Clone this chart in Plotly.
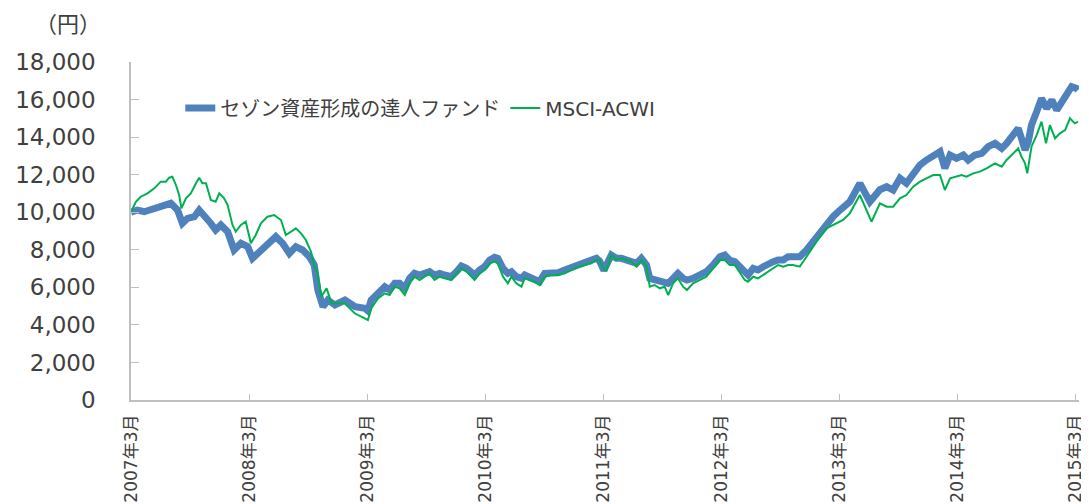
import plotly.graph_objects as go

# ---- data (date, index value in yen) ----
fund_series = [
    ("2007-03-01", 10000), ("2007-03-21", 10117), ("2007-04-11", 10027), ("2007-05-01", 10117),
    ("2007-05-22", 10293), ("2007-06-12", 10384), ("2007-07-02", 10473), ("2007-07-23", 10117),
    ("2007-08-07", 9409), ("2007-08-23", 9675), ("2007-09-13", 9761), ("2007-09-28", 10117),
    ("2007-10-14", 9851), ("2007-11-03", 9409), ("2007-11-18", 9053), ("2007-12-04", 9319),
    ("2007-12-25", 8962), ("2008-01-14", 7988), ("2008-02-04", 8344), ("2008-02-25", 8165),
    ("2008-03-11", 7545), ("2008-04-01", 7897), ("2008-04-26", 8344), ("2008-05-22", 8698),
    ("2008-06-12", 8344), ("2008-07-03", 7810), ("2008-07-23", 8165), ("2008-08-13", 7988),
    ("2008-09-03", 7631), ("2008-09-18", 7189), ("2008-09-29", 5858), ("2008-10-15", 4970),
    ("2008-10-30", 5325), ("2008-11-21", 5059), ("2008-12-22", 5325), ("2009-01-22", 4970),
    ("2009-02-22", 4881), ("2009-03-03", 4750), ("2009-03-13", 5325), ("2009-04-03", 5680),
    ("2009-04-24", 6035), ("2009-05-09", 5858), ("2009-05-25", 6213), ("2009-06-09", 6213),
    ("2009-06-25", 5947), ("2009-07-10", 6479), ("2009-07-25", 6745), ("2009-08-10", 6656),
    ("2009-08-25", 6745), ("2009-09-10", 6834), ("2009-09-25", 6656), ("2009-10-11", 6745),
    ("2009-10-26", 6656), ("2009-11-16", 6567), ("2009-12-02", 6834), ("2009-12-17", 7135),
    ("2010-01-02", 7012), ("2010-01-17", 6745), ("2010-01-27", 6656), ("2010-02-12", 6923),
    ("2010-02-27", 7100), ("2010-03-15", 7455), ("2010-03-30", 7597), ("2010-04-09", 7545),
    ("2010-04-25", 7012), ("2010-05-10", 6745), ("2010-05-21", 6834), ("2010-06-05", 6567),
    ("2010-06-21", 6479), ("2010-07-01", 6656), ("2010-07-16", 6567), ("2010-08-01", 6479),
    ("2010-08-16", 6301), ("2010-09-01", 6745), ("2010-09-22", 6745), ("2010-10-12", 6780),
    ("2010-11-02", 6923), ("2010-11-23", 7065), ("2010-12-13", 7189), ("2011-01-03", 7279),
    ("2011-01-23", 7455), ("2011-02-08", 7545), ("2011-02-18", 7400), ("2011-03-03", 6900),
    ("2011-03-26", 7721), ("2011-04-11", 7545), ("2011-04-26", 7545), ("2011-05-12", 7455),
    ("2011-05-27", 7455), ("2011-06-12", 7279), ("2011-06-27", 7545), ("2011-07-13", 7189),
    ("2011-07-23", 6479), ("2011-08-07", 6390), ("2011-08-23", 6301), ("2011-09-07", 6301),
    ("2011-09-18", 6213), ("2011-10-03", 6479), ("2011-10-18", 6745), ("2011-11-03", 6479),
    ("2011-11-15", 6390), ("2011-12-04", 6479), ("2011-12-25", 6656), ("2012-01-14", 6834),
    ("2012-02-04", 7189), ("2012-02-25", 7631), ("2012-03-11", 7721), ("2012-03-26", 7455),
    ("2012-04-11", 7367), ("2012-04-26", 7100), ("2012-05-12", 6834), ("2012-05-22", 6656),
    ("2012-06-07", 7012), ("2012-06-22", 6923), ("2012-07-08", 7100), ("2012-07-23", 7279),
    ("2012-08-08", 7367), ("2012-08-23", 7455), ("2012-09-08", 7455), ("2012-09-23", 7631),
    ("2012-10-08", 7600), ("2012-10-29", 7631), ("2012-11-19", 7988), ("2012-12-09", 8430),
    ("2012-12-30", 8962), ("2013-01-20", 9409), ("2013-02-09", 9761), ("2013-02-25", 10027),
    ("2013-03-12", 10206), ("2013-04-02", 10560), ("2013-05-03", 11539), ("2013-06-03", 10560),
    ("2013-07-04", 11200), ("2013-07-25", 11360), ("2013-08-14", 11183), ("2013-09-04", 11805),
    ("2013-09-24", 11538), ("2013-10-15", 11981), ("2013-11-05", 12514), ("2013-11-25", 12780),
    ("2013-12-16", 13046), ("2014-01-06", 13222), ("2014-01-21", 12337), ("2014-02-06", 13046),
    ("2014-02-26", 12868), ("2014-03-19", 13046), ("2014-04-03", 12780), ("2014-04-24", 13046),
    ("2014-05-15", 13134), ("2014-06-04", 13489), ("2014-06-25", 13668), ("2014-07-16", 13400),
    ("2014-07-31", 13668), ("2014-08-20", 14200), ("2014-09-05", 14468), ("2014-09-15", 13935),
    ("2014-09-26", 13313), ("2014-10-06", 13755), ("2014-10-16", 14644), ("2014-11-01", 15352),
    ("2014-11-16", 16065), ("2014-12-02", 15533), ("2014-12-18", 15975), ("2015-01-02", 15443),
    ("2015-01-17", 15799), ("2015-02-02", 16332), ("2015-02-17", 16683), ("2015-03-04", 16598),
    ("2015-03-09", 16508),
]

msci_series = [
    ("2007-03-01", 10000), ("2007-03-16", 10560), ("2007-03-31", 10826), ("2007-04-21", 11005),
    ("2007-05-12", 11272), ("2007-06-01", 11627), ("2007-06-17", 11627), ("2007-06-27", 11840),
    ("2007-07-07", 11893), ("2007-07-18", 11449), ("2007-07-28", 10916), ("2007-08-04", 10206),
    ("2007-08-18", 10738), ("2007-09-02", 11005), ("2007-09-18", 11538), ("2007-09-28", 11840),
    ("2007-10-08", 11538), ("2007-10-19", 11538), ("2007-11-03", 10650), ("2007-11-18", 10560),
    ("2007-11-29", 11005), ("2007-12-14", 10738), ("2007-12-25", 10384), ("2008-01-09", 9319),
    ("2008-01-19", 8962), ("2008-02-04", 9319), ("2008-02-19", 9495), ("2008-03-06", 8344),
    ("2008-03-21", 8786), ("2008-04-06", 9409), ("2008-04-26", 9761), ("2008-05-17", 9851),
    ("2008-06-07", 9585), ("2008-06-22", 8786), ("2008-07-08", 8962), ("2008-07-23", 9142),
    ("2008-08-08", 8877), ("2008-08-23", 8520), ("2008-09-08", 7897), ("2008-09-18", 7189),
    ("2008-09-28", 6750), ("2008-10-10", 5500), ("2008-10-26", 5948), ("2008-11-11", 5148),
    ("2008-12-21", 5148), ("2009-01-21", 4617), ("2009-02-21", 4351), ("2009-03-03", 4260),
    ("2009-03-13", 4881), ("2009-04-03", 5414), ("2009-04-24", 5680), ("2009-05-09", 5591),
    ("2009-05-25", 6035), ("2009-06-09", 5947), ("2009-06-25", 5591), ("2009-07-10", 6213),
    ("2009-07-25", 6567), ("2009-08-10", 6390), ("2009-08-25", 6567), ("2009-09-10", 6745),
    ("2009-09-25", 6390), ("2009-10-11", 6567), ("2009-10-26", 6479), ("2009-11-16", 6390),
    ("2009-12-02", 6745), ("2009-12-17", 7012), ("2010-01-02", 6834), ("2010-01-17", 6567),
    ("2010-01-27", 6390), ("2010-02-12", 6745), ("2010-02-27", 6923), ("2010-03-15", 7279),
    ("2010-03-30", 7367), ("2010-04-09", 7279), ("2010-04-25", 6567), ("2010-05-10", 6213),
    ("2010-05-21", 6567), ("2010-06-05", 6213), ("2010-06-21", 6035), ("2010-07-01", 6479),
    ("2010-07-16", 6390), ("2010-08-01", 6301), ("2010-08-16", 6124), ("2010-09-01", 6567),
    ("2010-09-22", 6656), ("2010-10-12", 6656), ("2010-11-02", 6745), ("2010-11-23", 6923),
    ("2010-12-13", 7100), ("2011-01-03", 7189), ("2011-01-23", 7279), ("2011-02-08", 7455),
    ("2011-02-18", 7455), ("2011-03-03", 6950), ("2011-03-11", 6923), ("2011-03-26", 7721),
    ("2011-04-11", 7455), ("2011-04-26", 7545), ("2011-05-12", 7455), ("2011-05-27", 7367),
    ("2011-06-12", 7100), ("2011-06-27", 7455), ("2011-07-13", 7100), ("2011-07-23", 6035),
    ("2011-08-07", 6124), ("2011-08-23", 5948), ("2011-09-07", 6035), ("2011-09-18", 5591),
    ("2011-10-03", 6213), ("2011-10-18", 6479), ("2011-11-03", 6035), ("2011-11-15", 5858),
    ("2011-12-04", 6213), ("2011-12-25", 6390), ("2012-01-14", 6567), ("2012-02-04", 7012),
    ("2012-02-25", 7455), ("2012-03-11", 7455), ("2012-03-26", 7189), ("2012-04-11", 7189),
    ("2012-04-26", 6834), ("2012-05-12", 6390), ("2012-05-22", 6301), ("2012-06-07", 6567),
    ("2012-06-22", 6479), ("2012-07-08", 6656), ("2012-07-23", 6834), ("2012-08-08", 7012),
    ("2012-08-23", 7189), ("2012-09-08", 7100), ("2012-09-23", 7189), ("2012-10-08", 7189),
    ("2012-10-29", 7100), ("2012-11-19", 7631), ("2012-12-09", 8165), ("2012-12-30", 8698),
    ("2013-01-20", 9142), ("2013-02-09", 9319), ("2013-02-25", 9495), ("2013-03-12", 9585),
    ("2013-04-02", 9940), ("2013-05-03", 10916), ("2013-06-08", 9494), ("2013-07-04", 10473),
    ("2013-07-25", 10293), ("2013-08-14", 10293), ("2013-09-04", 10738), ("2013-09-24", 10916),
    ("2013-10-15", 11360), ("2013-11-05", 11627), ("2013-11-25", 11805), ("2013-12-16", 11981),
    ("2014-01-06", 11981), ("2014-01-21", 11183), ("2014-02-06", 11805), ("2014-02-26", 11893),
    ("2014-03-14", 11981), ("2014-03-29", 11893), ("2014-04-19", 12071), ("2014-05-09", 12160),
    ("2014-05-30", 12337), ("2014-06-25", 12603), ("2014-07-16", 12426), ("2014-07-31", 12780),
    ("2014-08-15", 13046), ("2014-09-05", 13400), ("2014-09-15", 12957), ("2014-09-26", 12603),
    ("2014-10-03", 12071), ("2014-10-16", 13489), ("2014-11-01", 14111), ("2014-11-16", 14820),
    ("2014-11-30", 13668), ("2014-12-12", 14644), ("2014-12-28", 13935), ("2015-01-12", 14200),
    ("2015-01-28", 14378), ("2015-02-12", 15000), ("2015-02-27", 14731), ("2015-03-09", 14820),
]

series_names = ["セゾン資産形成の達人ファンド", "MSCI-ACWI"]
tick_dates = ["2007-03-01", "2008-03-01", "2009-03-01", "2010-03-01", "2011-03-01",
              "2012-03-01", "2013-03-01", "2014-03-01", "2015-03-01"]
tick_labels = ["2007年3月", "2008年3月", "2009年3月", "2010年3月", "2011年3月",
               "2012年3月", "2013年3月", "2014年3月", "2015年3月"]
unit_label = "（円）"

fund_dates = [d for d, _ in fund_series]
fund_values = [v for _, v in fund_series]
msci_dates = [d for d, _ in msci_series]
msci_values = [v for _, v in msci_series]

FONT = "DejaVu Sans, Noto Sans CJK JP, sans-serif"
TXT = "#404040"
AXC = "#BFBFBF"

fig = go.Figure()
fig.add_trace(go.Scatter(x=fund_dates, y=fund_values, mode="lines", name=series_names[0],
                         line=dict(color="#4F81BD", width=7)))
fig.add_trace(go.Scatter(x=msci_dates, y=msci_values, mode="lines", name=series_names[1],
                         line=dict(color="#00B050", width=2)))

# page body adds an 8px offset, so the figure is sized 8px smaller and margins shifted
fig.update_layout(
    width=1081, height=496,
    margin=dict(l=123, r=10, t=54, b=104, autoexpand=False),
    paper_bgcolor="white", plot_bgcolor="white",
    font=dict(family=FONT, size=20, color=TXT),
    showlegend=True,
    legend=dict(orientation="h", x=0.052, y=0.864, xanchor="left", yanchor="middle",
                font=dict(family=FONT, size=20, color=TXT), bgcolor="rgba(0,0,0,0)",
                traceorder="normal"),
    annotations=[dict(text=unit_label, xref="paper", yref="paper", x=-0.03, y=1.112,
                      xanchor="right", yanchor="middle", showarrow=False,
                      font=dict(family=FONT, size=22, color=TXT))],
)
fig.update_xaxes(
    type="date", range=["2007-03-01", "2015-03-12"], automargin=False,
    tickvals=tick_dates, ticktext=tick_labels, tickangle=-90,
    showgrid=False, zeroline=False, showline=True, linecolor=AXC, linewidth=1.5,
    ticks="inside", ticklen=6, tickcolor=AXC,
    tickfont=dict(family=FONT, size=17, color=TXT), ticklabelstandoff=6,
)
fig.update_yaxes(
    range=[0, 18000], dtick=2000, tickformat=",d", automargin=False,
    showgrid=False, zeroline=False, showline=True, linecolor=AXC, linewidth=1.5,
    ticks="inside", ticklen=8, tickcolor=AXC,
    tickfont=dict(family=FONT, size=23, color=TXT), ticklabelstandoff=29,
)

fig.write_html("out.html")
